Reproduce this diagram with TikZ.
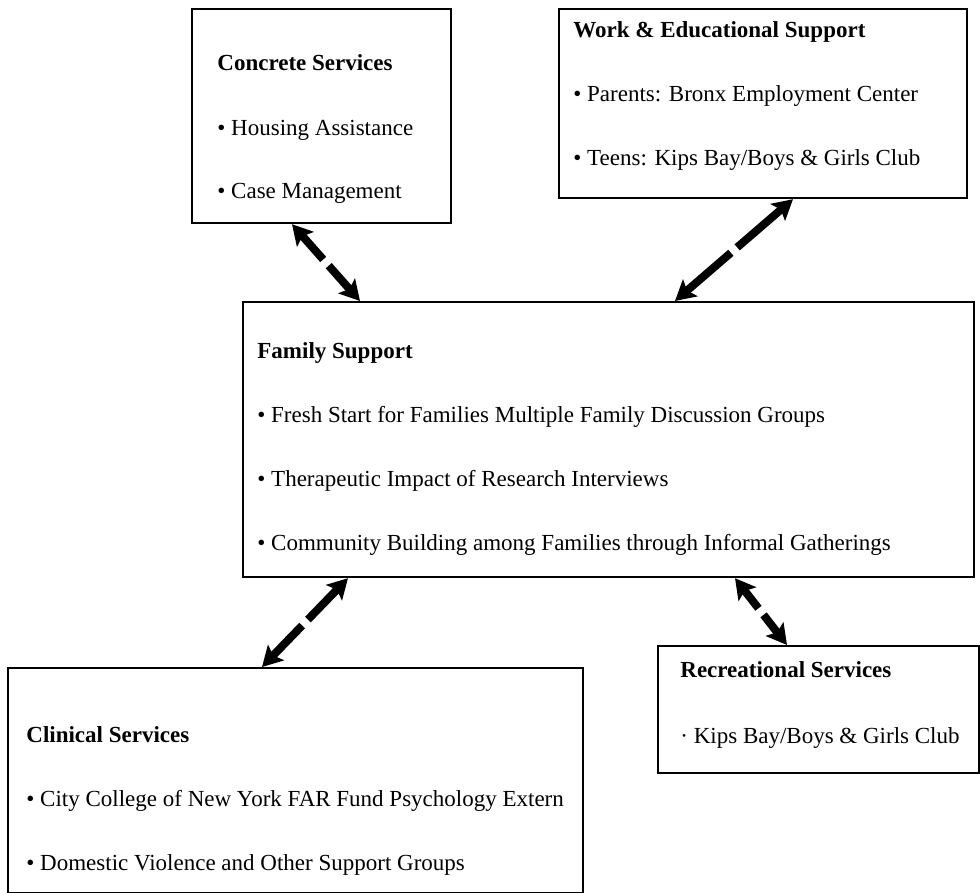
\documentclass[tikz,border=0pt]{standalone}
\usepackage{fontspec}
\setmainfont{Liberation Serif}
\usepackage{tikz}
\usetikzlibrary{calc,arrows.meta,decorations.markings}
\tikzset{
  box/.style={draw=black, line width=1.1pt, anchor=north west, inner sep=0pt},
  txt/.style={anchor=base west, align=left, inner sep=0pt,
    font=\fontsize{11.5}{32}\selectfont},
  link/.style={line width=4pt,
    {Stealth[length=10pt,width=11pt,inset=2pt]}-{Stealth[length=10pt,width=11pt,inset=2pt]},
    postaction={decorate},
    decoration={markings, mark=at position 0.5 with {\fill[white] (-2pt,-3pt) rectangle (2pt,3pt);}}}
}
\begin{document}
\begin{tikzpicture}[x=0.5pt, y=-0.5pt]
  \useasboundingbox (0,0) rectangle (980,893);

  % boxes
  \node[box, minimum width=129.5pt, minimum height=107pt] (con) at (191,8) {};
  \node[box, minimum width=204pt, minimum height=94.5pt] (work) at (558,8) {};
  \node[box, minimum width=365.5pt, minimum height=137.5pt] (fam) at (242,301) {};
  \node[box, minimum width=287.5pt, minimum height=112.5pt] (clin) at (7,667) {};
  \node[box, minimum width=160.5pt, minimum height=63.5pt] (rec) at (657,645) {};

  % texts (placed at the baseline of their last line)
  \node[txt] (conT) at (217,199) {\textbf{Concrete Services}\\• Housing Assistance\\• Case Management};
  \node[txt] (workT) at (573,166) {\textbf{Work \& Educational Support}\\• Parents: Bronx Employment Center\\• Teens: Kips Bay/Boys \& Girls Club};
  \node[txt] (famT) at (257,550) {\textbf{Family Support}\\• Fresh Start for Families Multiple Family Discussion Groups\\• Therapeutic Impact of Research Interviews\\• Community Building among Families through Informal Gatherings};
  \node[txt] (clinT) at (26,870) {\textbf{Clinical Services}\\• City College of New York FAR Fund Psychology Extern\\• Domestic Violence and Other Support Groups};
  \node[txt] (recT) at (680,743) {\textbf{Recreational Services}\\[1pt]· Kips Bay/Boys \& Girls Club};

  % arrow ends on the box edges
  \coordinate (conS) at ($(con.south west)+(101,0)$);
  \coordinate (workS) at ($(work.south west)+(235,0)$);
  \coordinate (famN1) at ($(fam.north west)+(118,0)$);
  \coordinate (famN2) at ($(fam.north west)+(433,0)$);
  \coordinate (famS1) at ($(fam.south west)+(106,0)$);
  \coordinate (famS2) at ($(fam.south west)+(493,0)$);
  \coordinate (clinN) at ($(clin.north west)+(255,0)$);
  \coordinate (recN) at ($(rec.north west)+(130,0)$);

  \draw[link] (conS) -- (famN1);
  \draw[link] (workS) -- (famN2);
  \draw[link] (famS1) -- (clinN);
  \draw[link] (famS2) -- (recN);
\end{tikzpicture}
\end{document}
